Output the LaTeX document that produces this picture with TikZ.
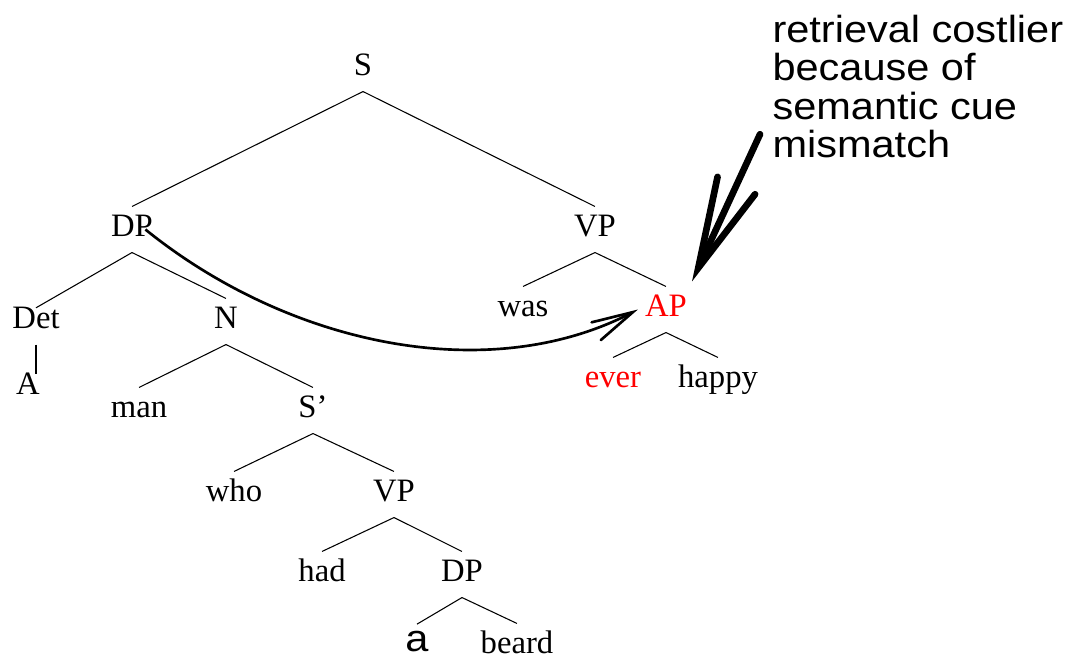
\documentclass[tikz,border=0pt]{standalone}
\usepackage{fontspec}
\setmainfont{Liberation Serif}
\setsansfont{Liberation Sans}
\newfontfamily\notefont[FakeStretch=1.1]{Liberation Sans}
\usetikzlibrary{arrows.meta}

\begin{document}
\begin{tikzpicture}[x=0.75pt, y=-0.75pt, line width=0.8pt,
  lab/.style={font=\fontsize{24.5}{28}\selectfont, inner sep=0pt, text height=21.75pt, text depth=12pt, anchor=base},
  leaf/.style={lab, text depth=0pt},
  cue/.style={text=red},
  note/.style={font=\fontsize{28.3}{28.75}\selectfont\notefont, align=left, inner sep=0pt, anchor=north west},
  reach/.style={line width=2pt, -{Straight Barb[length=31pt,width=15pt,line cap=round]}},
  bigcue/.style={line width=5pt, line cap=round, -{Straight Barb[length=68pt,width=31pt,line cap=round]}}]
\useasboundingbox (0,0) rectangle (1071,658);

\node[lab] (S) at (363,75) {S};
\node[lab] (DP) at (132,236) {DP};
\node[lab] (VP) at (595,236) {VP};
\node[lab] (Det) at (36,328) {Det};
\node[lab] (N) at (226,328) {N};
\node[lab] (was) at (523,316) {was};
\node[lab,cue] (AP) at (666,316) {AP};
\node[lab] (A) at (28,394) {A};
\node[lab] (man) at (139,417) {man};
\node[lab] (Sbar) at (313,417) {S’};
\node[lab,cue] (ever) at (613,387) {ever};
\node[lab] (happy) at (718,387) {happy};
\node[lab] (who) at (234,501) {who};
\node[lab] (VPb) at (394,501) {VP};
\node[lab] (had) at (322,581) {had};
\node[lab] (DPb) at (462,581) {DP};
\node[leaf,font=\fontsize{28.3}{28.75}\selectfont\notefont] (a) at (417,651) {a};
\node[leaf] (beard) at (517,653) {beard};

\node[note] (note) at (772,14.5) {retrieval costlier\\because of\\semantic cue\\mismatch};
\coordinate (aptip) at ([shift={(26,-5)}]AP.north);

\draw (S.south) -- (DP.north);
\draw (S.south) -- (VP.north);
\draw (DP.south) -- ([yshift=-7pt]Det.north);
\draw (DP.south) -- (N.north);
\draw (Det.south) -- ([yshift=-7pt]Det.south |- A.north);
\draw (N.south) -- (man.north);
\draw (N.south) -- (Sbar.north);
\draw (Sbar.south) -- (who.north);
\draw (Sbar.south) -- (VPb.north);
\draw (VPb.south) -- (had.north);
\draw (VPb.south) -- (DPb.north);
\draw (DPb.south) -- ([yshift=-2pt]a.north);
\draw (DPb.south) -- (beard.north);
\draw (VP.south) -- (was.north);
\draw (VP.south) -- (AP.north);
\draw (AP.south) -- (ever.north);
\draw (AP.south) -- (happy.north);

\draw[reach] ([xshift=-6pt]DP.east) .. controls +(145,117) and +(-148,77) .. ([xshift=-5pt]AP.west);
\draw[bigcue] ([shift={(-12,-24)}]note.south west) -- (aptip);
\end{tikzpicture}
\end{document}
